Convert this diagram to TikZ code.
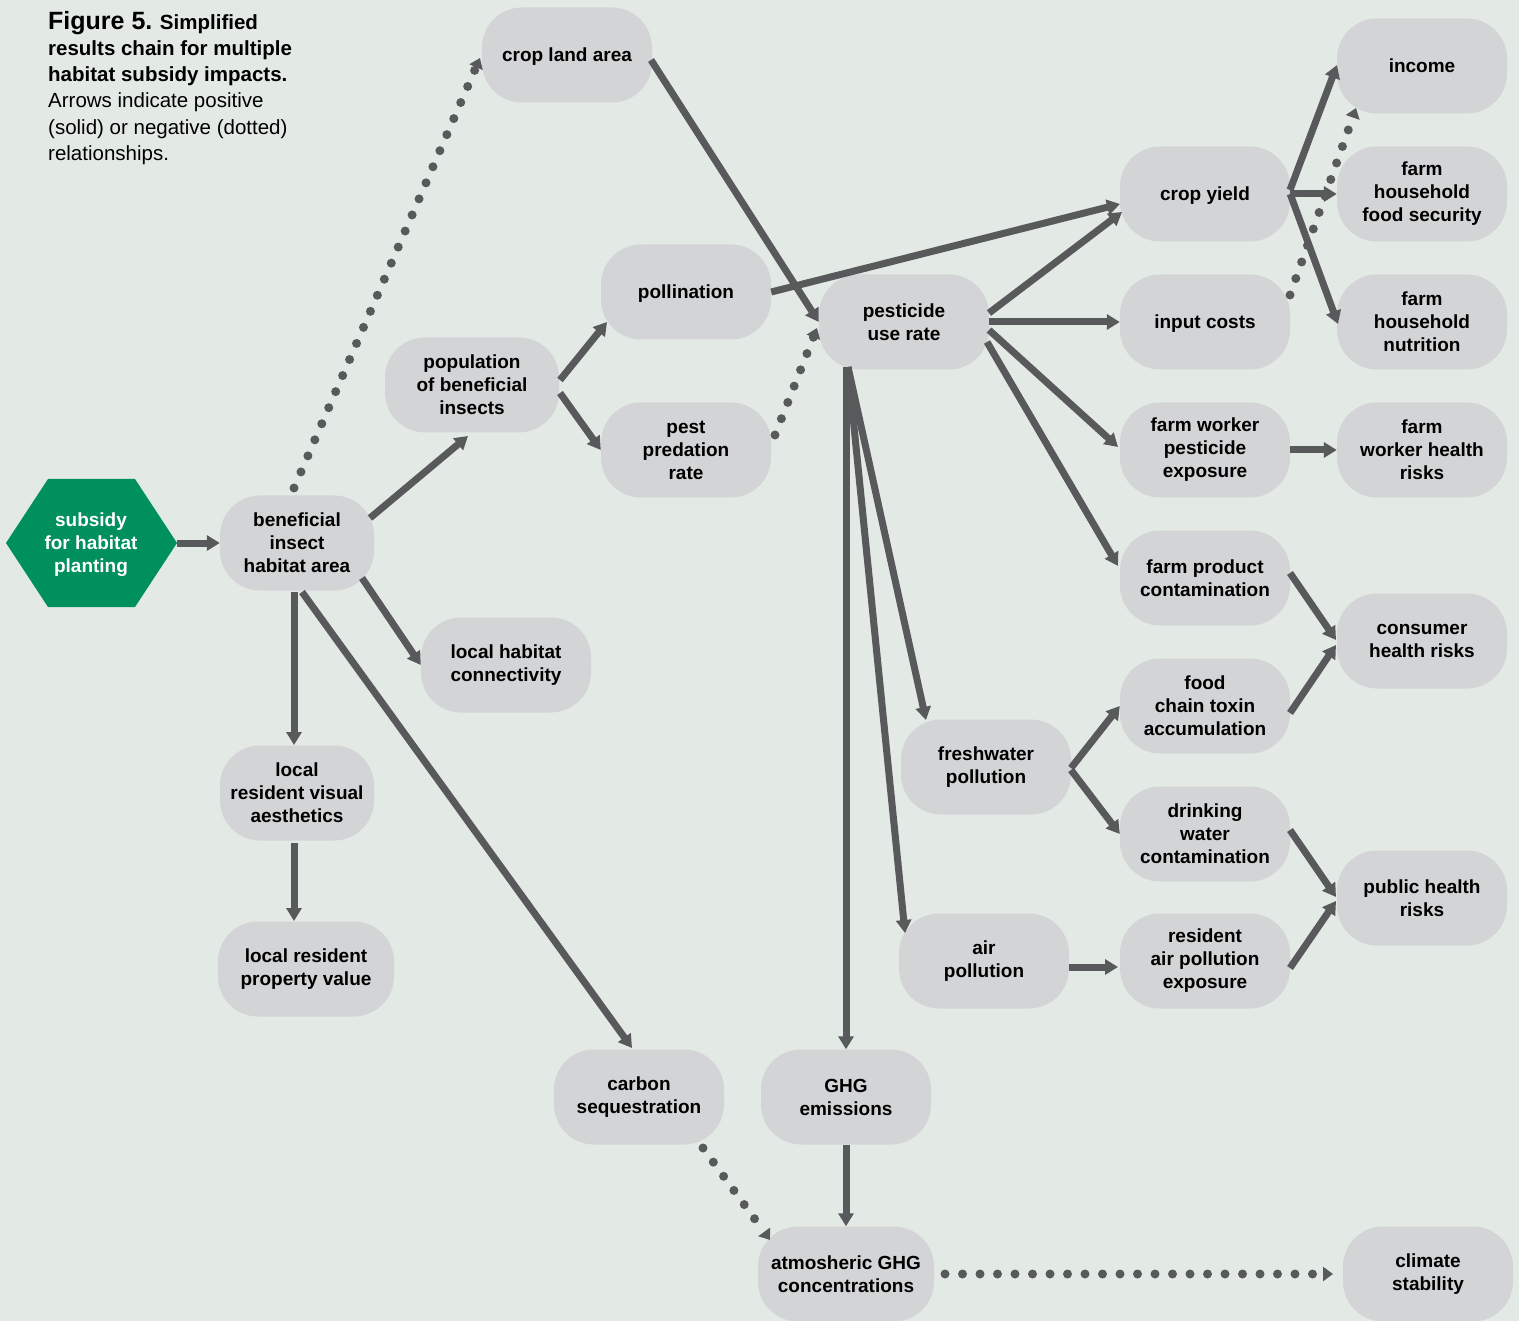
\documentclass[tikz,border=0pt]{standalone}
\usepackage{fontspec}
\setmainfont{Liberation Sans}
\usetikzlibrary{arrows.meta}
\definecolor{chainbg}{HTML}{E3EAE5}
\definecolor{chainbox}{HTML}{D3D4D6}
\definecolor{chainarrow}{HTML}{58595B}
\definecolor{chaingreen}{HTML}{00905E}

\begin{document}
\begin{tikzpicture}[x=1pt,y=-1pt,
  factor/.style={fill=chainbox, rounded corners=40pt, minimum width=170pt, minimum height=95pt,
    align=center, inner sep=0pt, font=\fontsize{19}{23}\selectfont\bfseries},
  oneline/.style={factor, text depth=0pt},
  posarrow/.style={draw=chainarrow, line width=7pt, -{Triangle[length=13pt,width=15pt]}},
  negarrow/.style={draw=chainarrow, line width=9pt, line cap=round, dash pattern=on 0pt off 17.5pt,
    -{Triangle[length=10pt,width=14pt]}}]

\useasboundingbox (0,0) rectangle (1519,1321);
\fill[chainbg] (0,0) rectangle (1519,1321);

% Caption
\node[anchor=north west, align=left, inner sep=0pt, font=\fontsize{20.5}{26.2}\selectfont] (caption) at (48,11)
  {{\fontsize{25}{26.2}\selectfont\bfseries Figure 5.} \textbf{Simplified}\\
   \textbf{results chain for multiple}\\
   \textbf{habitat subsidy impacts.}\\
   Arrows indicate positive\\
   (solid) or negative (dotted)\\
   relationships.};

% Intervention
\fill[chaingreen] (6,543) -- (48,479) -- (135,479) -- (177,543) -- (135,607) -- (48,607) -- cycle;
\node[align=center, inner sep=0pt, minimum width=171pt, minimum height=128pt, text=white,
  font=\fontsize{19}{23}\selectfont\bfseries] (sub) at (91,545) {subsidy\\for habitat\\planting};

% Habitat
\node[factor, minimum width=154pt] (ben) at (297,543) {beneficial\\insect\\habitat area};
\node[oneline] (crop) at (567,55) {crop land area};
\node[factor, minimum width=174pt] (pop) at (472,385) {population\\of beneficial\\insects};
\node[oneline] (poll) at (686,292) {pollination};
\node[factor] (pred) at (686,450) {pest\\predation\\rate};
\node[factor] (conn) at (506,665) {local habitat\\connectivity};
\node[factor, minimum width=154pt] (vis) at (297,793) {local\\resident visual\\aesthetics};
\node[factor, minimum width=176pt] (prop) at (306,969) {local resident\\property value};
\node[factor] (carb) at (639,1097) {carbon\\sequestration};
\node[factor] (ghg) at (846,1097) {GHG\\emissions};
\node[factor, minimum width=176pt] (atm) at (846,1274) {atmosheric GHG\\concentrations};
\node[factor] (clim) at (1428,1274) {climate\\stability};

% Farm
\node[factor] (pest) at (904,322) {pesticide\\use rate};
\node[oneline] (yield) at (1205,194) {crop yield};
\node[oneline] (cost) at (1205,322) {input costs};
\node[factor] (wexp) at (1205,450) {farm worker\\pesticide\\exposure};
\node[factor] (prod) at (1205,578) {farm product\\contamination};
\node[oneline] (inc) at (1422,66) {income};
\node[factor] (food) at (1422,194) {farm\\household\\food security};
\node[factor] (nutr) at (1422,322) {farm\\household\\nutrition};
\node[factor] (whr) at (1422,450) {farm\\worker health\\risks};
\node[factor] (cons) at (1422,641) {consumer\\health risks};
\node[factor] (chain) at (1205,706) {food\\chain toxin\\accumulation};
\node[factor] (fresh) at (986,767) {freshwater\\pollution};
\node[factor] (drink) at (1205,834) {drinking\\water\\contamination};
\node[factor] (pub) at (1422,898) {public health\\risks};
\node[factor] (air) at (984,961) {air\\pollution};
\node[factor] (rexp) at (1205,961) {resident\\air pollution\\exposure};

% Links
\draw[posarrow] ([yshift=2pt]sub.east) -- (ben.west);
\draw[negarrow] ([shift={(-3,-55)}]ben.center) -- ([shift={(-87,3)}]crop.center);
\draw[posarrow] ([shift={(73,-25)}]ben.center) -- ([shift={(-4,51)}]pop.center);
\draw[posarrow] ([shift={(65,35)}]ben.center) -- (conn.west);
\draw[posarrow] ([shift={(-3,49)}]ben.center) -- ([shift={(-3,-48)}]vis.center);
\draw[posarrow] ([shift={(5,49)}]ben.center) -- ([shift={(-7,-49)}]carb.center);
\draw[posarrow] ([shift={(-3,50)}]vis.center) -- ([shift={(-12,-48)}]prop.center);
\draw[posarrow] ([shift={(88,-5)}]pop.center) -- ([shift={(-79,30)}]poll.center);
\draw[posarrow] ([shift={(88,8)}]pop.center) -- (pred.west);
\draw[posarrow] ([shift={(84,5)}]crop.center) -- (pest.west);
\draw[posarrow] (poll.east) -- ([shift={(-85,10)}]yield.center);
\draw[negarrow] ([shift={(89,-15)}]pred.center) -- ([shift={(-87,6)}]pest.center);

\draw[posarrow] ([shift={(85,-9)}]pest.center) -- ([shift={(-83,18)}]yield.center);
\draw[posarrow] (pest.east) -- (cost.west);
\draw[posarrow] ([shift={(85,8)}]pest.center) -- ([shift={(-87,-3)}]wexp.center);
\draw[posarrow] ([shift={(83,20)}]pest.center) -- ([shift={(-87,-12)}]prod.center);
\draw[posarrow] ([shift={(-56,45)}]pest.center) -- ([shift={(-60,-47)}]fresh.center);
\draw[posarrow] ([shift={(-56,45)}]pest.center) -- ([shift={(-79,-28)}]air.center);
\draw[posarrow] ([shift={(-58,45)}]pest.center) -- (ghg.north);

\draw[posarrow] ([shift={(85,-4)}]yield.center) -- ([shift={(-85,-1)}]inc.center);
\draw[posarrow] (yield.east) -- (food.west);
\draw[posarrow] (yield.east) -- ([shift={(-84,2)}]nutr.center);
\draw[negarrow] ([shift={(85,-27)}]cost.center) -- ([shift={(-66,42)}]inc.center);
\draw[posarrow] (wexp.east) -- (whr.west);
\draw[posarrow] ([shift={(85,-5)}]prod.center) -- ([shift={(-86,-1)}]cons.center);
\draw[posarrow] ([shift={(85,7)}]chain.center) -- ([shift={(-86,4)}]cons.center);
\draw[posarrow] ([shift={(85,1)}]fresh.center) -- (chain.west);
\draw[posarrow] ([shift={(85,3)}]fresh.center) -- (drink.west);
\draw[posarrow] ([shift={(85,-4)}]drink.center) -- ([shift={(-86,-1)}]pub.center);
\draw[posarrow] ([shift={(85,7)}]rexp.center) -- ([shift={(-86,3)}]pub.center);
\draw[posarrow] ([shift={(85,6)}]air.center) -- ([shift={(-87,6)}]rexp.center);

\draw[negarrow] ([shift={(64,51)}]carb.center) -- ([shift={(-76,-34)}]atm.center);
\draw[posarrow] (ghg.south) -- (atm.north);
\draw[negarrow] ([shift={(99,0)}]atm.center) -- ([shift={(-95,0)}]clim.center);

\end{tikzpicture}
\end{document}
